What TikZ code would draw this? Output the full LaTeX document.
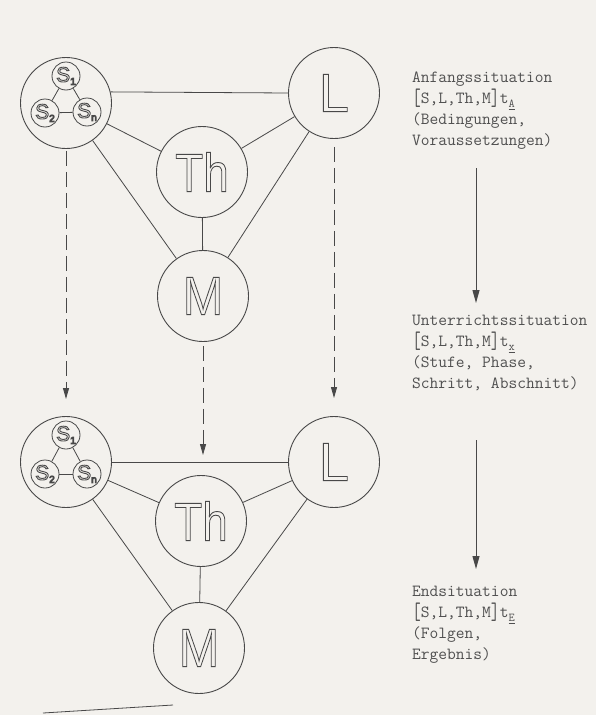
\documentclass[tikz,border=0pt]{standalone}
\usepackage{fontspec}
\usepackage{graphicx}
\usetikzlibrary{arrows.meta}
\newfontfamily\lsans{Liberation Sans}
\definecolor{paper}{RGB}{243,241,237}
\definecolor{ink}{RGB}{72,72,72}
\definecolor{txt}{RGB}{80,80,80}
\newcommand{\hollowtext}[1]{\special{pdf:literal direct 1 Tr 0.9 w}#1\special{pdf:literal direct 0 Tr}}
\newcommand{\brk}[1]{\raisebox{-2pt}{\scalebox{1}[1.4]{[}}S,L,Th,M\raisebox{-2pt}{\scalebox{1}[1.4]{]}}t\raisebox{-4pt}{\fontsize{12}{12}\selectfont\underline{#1}}}
\newcommand{\subS}[1]{S\raisebox{-3pt}{\fontsize{10}{10}\selectfont #1}}
\begin{document}
\begin{tikzpicture}[x=1pt,y=-1pt,
 bigc/.style={circle,draw=ink,line width=0.9pt,minimum size=91pt,inner sep=0pt,text=ink},
 smallc/.style={circle,draw=ink,line width=0.8pt,minimum size=28pt,inner sep=0pt,text=ink},
 link/.style={draw=ink,line width=0.8pt},
 dashlink/.style={draw=ink,line width=0.9pt,dash pattern=on 15pt off 6pt,-{Triangle[length=11pt,width=6pt]}},
 flow/.style={draw=ink,line width=1pt,-{Triangle[length=13pt,width=7pt]}},
 sitext/.style={anchor=north west,align=left,inner sep=0pt,text=txt,font=\ttfamily\fontsize{17}{21}\selectfont},
 letterfont/.style={font=\lsans\fontsize{54}{54}\selectfont},
 smallfont/.style={font=\lsans\fontsize{21}{21}\selectfont}]
\fill[paper] (0,0) rectangle (596,715);
\useasboundingbox (0,0) rectangle (596,715);

% top group
\node[bigc] (S1) at (66,103) {};
\node[bigc,letterfont] (L1) at (334,93) {\hollowtext{L}};
\node[bigc,letterfont] (Th1) at (202,172) {\hollowtext{\scalebox{0.85}[1]{Th}}};
\node[bigc,letterfont] (M1) at (203,296) {\hollowtext{\scalebox{0.9}[1]{M}}};
\node[smallc,smallfont] (s1a) at (66,76) {\hollowtext{\subS{1}}};
\node[smallc,smallfont] (s1b) at (45,113) {\hollowtext{\subS{2}}};
\node[smallc,smallfont] (s1n) at (87,112) {\hollowtext{\subS{n}}};
\draw[link] (s1a) -- (s1b);
\draw[link] (s1a) -- (s1n);
\draw[link] (s1b) -- (s1n);
\draw[link] (S1.14) -- (L1.west);
\draw[link] (S1) -- (Th1);
\draw[link] (Th1) -- (L1);
\draw[link] (S1) -- (M1);
\draw[link] (L1) -- (M1);
\draw[link] (Th1) -- (M1);

% bottom group
\node[bigc] (S2) at (66,462) {};
\node[bigc,letterfont] (L2) at (334,462) {\hollowtext{L}};
\node[bigc,letterfont] (Th2) at (201,521) {\hollowtext{\scalebox{0.85}[1]{Th}}};
\node[bigc,letterfont] (M2) at (199,648) {\hollowtext{\scalebox{0.9}[1]{M}}};
\node[smallc,smallfont] (s2a) at (66,435) {\hollowtext{\subS{1}}};
\node[smallc,smallfont] (s2b) at (45,474) {\hollowtext{\subS{2}}};
\node[smallc,smallfont] (s2n) at (87,474) {\hollowtext{\subS{n}}};
\draw[link] (s2a) -- (s2b);
\draw[link] (s2a) -- (s2n);
\draw[link] (s2b) -- (s2n);
\draw[link] (S2) -- (L2);
\draw[link] (S2) -- (Th2);
\draw[link] (Th2) -- (L2);
\draw[link] (S2) -- (M2);
\draw[link] (L2) -- (M2);
\draw[link] (Th2) -- (M2);

% dashed transitions
\draw[dashlink,shorten <=2pt,shorten >=17pt] (S1.south) -- (S2.north);
\draw[dashlink,shorten <=8pt,shorten >=18pt] (L1.south) -- (L2.north);
\draw[dashlink,shorten <=4pt,shorten >=20pt] (M1.south) -- (M1.south |- Th2.north);

% right column
\node[sitext] (t1) at (412,72) {Anfangssituation\\\brk{A}\\(Bedingungen,\\Voraussetzungen)};
\node[sitext] (t2) at (412,315) {Unterrichtssituation\\\brk{x}\\(Stufe, Phase,\\Schritt, Abschnitt)};
\node[sitext] (t3) at (412,586) {Endsituation\\\brk{E}\\(Folgen,\\Ergebnis)};
\coordinate (a1s) at (476,168);
\coordinate (a1e) at (476,303);
\coordinate (a2s) at (476,440);
\coordinate (a2e) at (476,569);
\draw[flow] (a1s) -- (a1e);
\draw[flow] (a2s) -- (a2e);

% stray stroke at the bottom edge
\draw[link] (43,713) -- (173,705);
\end{tikzpicture}
\end{document}
